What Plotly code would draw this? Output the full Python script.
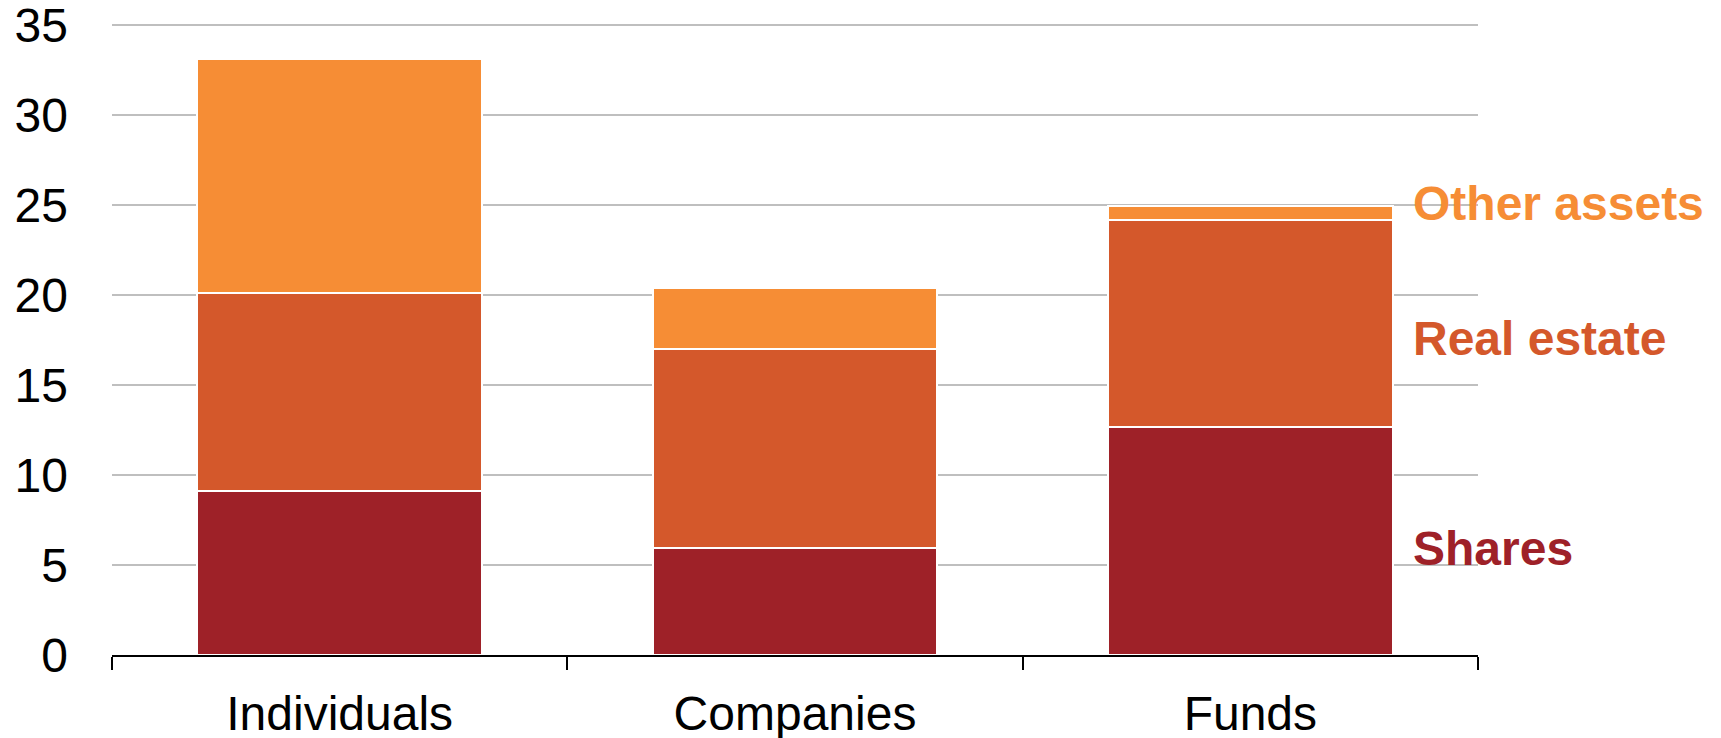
import plotly.graph_objects as go

categories = ["Individuals", "Companies", "Funds"]
shares = [9.1, 5.95, 12.7]
real_estate = [11.05, 11.05, 11.5]
other_assets = [13.0, 3.4, 0.75]

series_names = ["Shares", "Real estate", "Other assets"]
series_colors = ["#9E2128", "#D4582B", "#F68D35"]
label_y = [5.9, 17.6, 25.1]

fig = go.Figure()
for name, vals, col in zip(series_names, [shares, real_estate, other_assets], series_colors):
    fig.add_trace(go.Bar(
        x=categories, y=vals, name=name,
        marker=dict(color=col, line=dict(color="white", width=2)),
        width=0.625,
    ))

for name, col, yv in zip(series_names, series_colors, label_y):
    fig.add_annotation(
        x=1.0, xref="paper", xshift=-67, xanchor="left",
        y=yv, yref="y", yanchor="middle",
        text="<b>" + name + "</b>", showarrow=False,
        font=dict(family="Liberation Sans, Arial, sans-serif", size=48, color=col),
    )

fig.update_layout(
    barmode="stack",
    width=1705, height=730,
    margin=dict(l=104, r=235, t=12, b=83, autoexpand=False),
    paper_bgcolor="white", plot_bgcolor="white",
    showlegend=False,
    font=dict(family="Liberation Sans, Arial, sans-serif", size=48, color="black"),
)
fig.update_xaxes(
    showgrid=False, showline=True, linecolor="black", linewidth=2,
    ticks="outside", tickson="boundaries", ticklen=13, tickwidth=2, tickcolor="black",
    tickfont=dict(size=48), ticklabelstandoff=15, automargin=False,
    ticklabeloverflow="allow",
)
fig.update_yaxes(
    range=[0, 35.3], tickvals=[0, 5, 10, 15, 20, 25, 30, 35],
    showgrid=True, gridcolor="#BFBFBF", gridwidth=1.5,
    zeroline=False, showline=False, ticks="",
    tickfont=dict(size=48), ticklabelstandoff=43, automargin=False,
    ticklabeloverflow="allow",
)

fig.write_html("out.html")
